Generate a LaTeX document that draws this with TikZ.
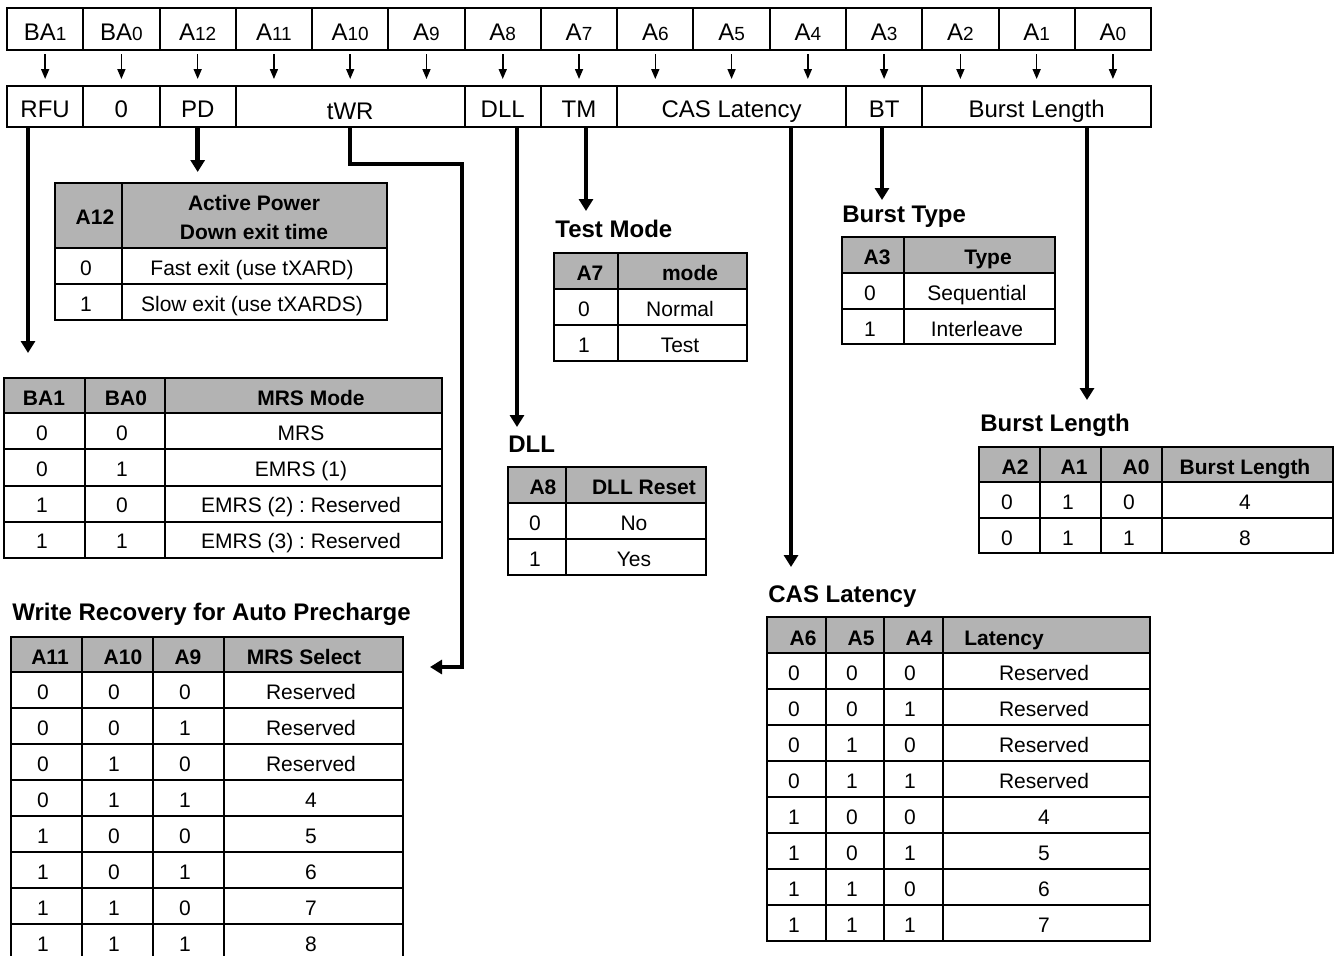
\documentclass[tikz,border=0pt]{standalone}
\usepackage{fontspec}
\setmainfont{Liberation Sans}
\usetikzlibrary{arrows.meta}
\definecolor{hdrgray}{RGB}{179,179,179}
\newcommand{\bitsub}[1]{{\fontsize{9.5}{10}\selectfont #1}}
\frenchspacing

\begin{document}
\begin{tikzpicture}[x=0.5pt, y=-0.5pt,
    bit/.style={draw, line width=1pt, minimum width=38.135pt, minimum height=21pt, inner sep=0pt,
      text height=8.6pt, text depth=0pt, font=\fontsize{12}{14}\selectfont},
    field/.style={bit, minimum height=20.5pt},
    arrow/.style={-{Triangle[length=5pt, width=4pt]}, line width=0.8pt, shorten <=1.5pt, shorten >=3pt},
    bigarrow/.style={-{Triangle[length=6pt, width=7pt]}, line width=2.2pt},
    tbl/.style={line width=1.1pt},
    hdr/.style={fill=hdrgray},
    cell/.style={inner sep=0pt, text height=7.5pt, text depth=0pt, yshift=-0.9pt, font=\fontsize{10.5}{12}\selectfont},
    head/.style={cell, font=\fontsize{10.5}{12}\selectfont\bfseries},
    headtwo/.style={inner sep=0pt, align=center, font=\fontsize{10.5}{14.5}\selectfont\bfseries},
    title/.style={anchor=west, inner sep=0pt, text height=8.6pt, text depth=0pt, font=\fontsize{12}{14}\selectfont\bfseries}
  ]
  \clip (0,0) rectangle (1338,955);

  % address bits
  \foreach \lbl [count=\i from 0] in {BA\bitsub{1}, BA\bitsub{0}, A\bitsub{12}, A\bitsub{11}, A\bitsub{10},
      A\bitsub{9}, A\bitsub{8}, A\bitsub{7}, A\bitsub{6}, A\bitsub{5}, A\bitsub{4}, A\bitsub{3},
      A\bitsub{2}, A\bitsub{1}, A\bitsub{0}} {
    \node[bit] (b\i) at ({7+76.27*(\i+0.5)}, 29) {\raisebox{-1.2pt}{\lbl}};
  }

  % register fields
  \coordinate (frow) at (0,106.5);
  \node[field] (RFU) at (b0 |- frow) {\raisebox{-1pt}{RFU}};
  \node[field] (zero) at (b1 |- frow) {\raisebox{-1pt}{0}};
  \node[field] (PD) at (b2 |- frow) {\raisebox{-1pt}{PD}};
  \node[field, minimum width=114.4pt] (tWR) at (b4 |- frow) {\raisebox{-2pt}{tWR}};
  \node[field] (DLL) at (b6 |- frow) {\raisebox{-1pt}{DLL}};
  \node[field] (TM) at (b7 |- frow) {\raisebox{-1pt}{TM}};
  \node[field, minimum width=114.4pt] (CAS) at (b9 |- frow) {\raisebox{-1pt}{CAS Latency}};
  \node[field] (BT) at (b11 |- frow) {\raisebox{-1pt}{BT}};
  \node[field, minimum width=114.4pt] (BL) at (b13 |- frow) {\raisebox{-1pt}{Burst Length}};

  \foreach \i in {0,...,14} {
    \draw[arrow] (b\i.south) -- (b\i.south |- RFU.north);
  }

  % field arrows
  \coordinate (mrsin) at (28,353);
  \coordinate (pdin) at (199,172);
  \coordinate (wrbend) at (462,164);
  \coordinate (wrin) at (430,667);
  \coordinate (dllin) at (517,427);
  \coordinate (tmin) at (586,211);
  \coordinate (casin) at (791,567);
  \coordinate (btin) at (882,200);
  \coordinate (blin) at (1087,400);
  \draw[bigarrow] (mrsin |- RFU.south) -- (mrsin);
  \draw[bigarrow] (PD.south) -- (PD.south |- pdin);
  \draw[bigarrow] (tWR.south) |- (wrbend) |- (wrin);
  \draw[bigarrow] (dllin |- DLL.south) -- (dllin);
  \draw[bigarrow] (tmin |- TM.south) -- (tmin);
  \draw[bigarrow] (casin |- CAS.south) -- (casin);
  \draw[bigarrow] (btin |- BT.south) -- (btin);
  \draw[bigarrow] (blin |- BL.south) -- (blin);

  % power down table
  \fill[hdr] (55,183) rectangle (387,248);
  \draw[tbl] (55,183) rectangle (387,320);
  \foreach \y in {248,284} \draw[tbl] (55,\y) -- (387,\y);
  \draw[tbl] (122,183) -- (122,320);
  \node[head] (pdh1) at (95,215) {A12};
  \node[headtwo] (pdh2) at (254,217) {Active Power\\Down exit time};
  \foreach \a/\b [count=\r] in {0/Fast exit (use tXARD), 1/Slow exit (use tXARDS)} {
    \node[cell] (pd\r-a) at (86,{230+36*\r}) {\a};
    \node[cell] (pd\r-b) at (252,{230+36*\r}) {\b};
  }

  % mrs mode table
  \fill[hdr] (4,378) rectangle (442,413);
  \draw[tbl] (4,378) rectangle (442,558);
  \foreach \y in {413,449,486,522} \draw[tbl] (4,\y) -- (442,\y);
  \foreach \x in {85,165} \draw[tbl] (\x,378) -- (\x,558);
  \foreach \h/\x [count=\c] in {BA1/44, BA0/126, MRS Mode/311} \node[head] (mrsh\c) at (\x,396) {\h};
  \foreach \a/\b/\d [count=\r] in {0/0/MRS, 0/1/EMRS (1), 1/0/EMRS (2) : Reserved, 1/1/EMRS (3) : Reserved} {
    \node[cell] (mrs\r-a) at (42,{395+36*\r}) {\a};
    \node[cell] (mrs\r-b) at (122,{395+36*\r}) {\b};
    \node[cell] (mrs\r-c) at (301,{395+36*\r}) {\d};
  }

  % write recovery table
  \node[title] (wrtitle) at (12,612) {Write Recovery for Auto Precharge};
  \fill[hdr] (11,637) rectangle (403,672);
  \draw[tbl] (11,637) rectangle (403,960);
  \foreach \y in {672,708,744,780,816,852,888,924} \draw[tbl] (11,\y) -- (403,\y);
  \foreach \x in {82,153,224} \draw[tbl] (\x,637) -- (\x,960);
  \foreach \h/\x [count=\c] in {A11/50, A10/123, A9/188, MRS Select/304} \node[head] (wrh\c) at (\x,655) {\h};
  \foreach \a/\b/\e/\d [count=\r] in {0/0/0/Reserved, 0/0/1/Reserved, 0/1/0/Reserved, 0/1/1/4,
      1/0/0/5, 1/0/1/6, 1/1/0/7, 1/1/1/8} {
    \node[cell] (wr\r-a) at (43,{654+36*\r}) {\a};
    \node[cell] (wr\r-b) at (114,{654+36*\r}) {\b};
    \node[cell] (wr\r-c) at (185,{654+36*\r}) {\e};
    \node[cell] (wr\r-d) at (311,{654+36*\r}) {\d};
  }

  % test mode table
  \node[title] (tmtitle) at (555,229) {Test Mode};
  \fill[hdr] (554,253) rectangle (747,289);
  \draw[tbl] (554,253) rectangle (747,361);
  \foreach \y in {289,325} \draw[tbl] (554,\y) -- (747,\y);
  \draw[tbl] (618,253) -- (618,361);
  \node[head] (tmh1) at (590,271) {A7};
  \node[head] (tmh2) at (690,271) {mode};
  \foreach \a/\b [count=\r] in {0/Normal, 1/Test} {
    \node[cell] (tm\r-a) at (584,{271+36*\r}) {\a};
    \node[cell] (tm\r-b) at (680,{271+36*\r}) {\b};
  }

  % dll table
  \node[title] (dlltitle) at (508,444) {DLL};
  \fill[hdr] (508,467) rectangle (706,503);
  \draw[tbl] (508,467) rectangle (706,575);
  \foreach \y in {503,539} \draw[tbl] (508,\y) -- (706,\y);
  \draw[tbl] (566,467) -- (566,575);
  \node[head] (dllh1) at (543,485) {A8};
  \node[head] (dllh2) at (644,485) {DLL Reset};
  \foreach \a/\b [count=\r] in {0/No, 1/Yes} {
    \node[cell] (dll\r-a) at (535,{485+36*\r}) {\a};
    \node[cell] (dll\r-b) at (634,{485+36*\r}) {\b};
  }

  % burst type table
  \node[title] (bttitle) at (842,214) {Burst Type};
  \fill[hdr] (842,237) rectangle (1055,273);
  \draw[tbl] (842,237) rectangle (1055,344);
  \foreach \y in {273,309} \draw[tbl] (842,\y) -- (1055,\y);
  \draw[tbl] (904,237) -- (904,344);
  \node[head] (bth1) at (877,255) {A3};
  \node[head] (bth2) at (988,255) {Type};
  \foreach \a/\b [count=\r] in {0/Sequential, 1/Interleave} {
    \node[cell] (bt\r-a) at (870,{255+36*\r}) {\a};
    \node[cell] (bt\r-b) at (977,{255+36*\r}) {\b};
  }

  % burst length table
  \node[title] (bltitle) at (980,423) {Burst Length};
  \fill[hdr] (979,447) rectangle (1333,482);
  \draw[tbl] (979,447) rectangle (1333,553);
  \foreach \y in {482,518} \draw[tbl] (979,\y) -- (1333,\y);
  \foreach \x in {1040,1101,1162} \draw[tbl] (\x,447) -- (\x,553);
  \foreach \h/\x [count=\c] in {A2/1015, A1/1074, A0/1136, Burst Length/1245} \node[head] (blh\c) at (\x,465) {\h};
  \foreach \a/\b/\e/\d [count=\r] in {0/1/0/4, 0/1/1/8} {
    \node[cell] (bl\r-a) at (1007,{464+36*\r}) {\a};
    \node[cell] (bl\r-b) at (1068,{464+36*\r}) {\b};
    \node[cell] (bl\r-c) at (1129,{464+36*\r}) {\e};
    \node[cell] (bl\r-d) at (1245,{464+36*\r}) {\d};
  }

  % cas latency table
  \node[title] (castitle) at (768,594) {CAS Latency};
  \fill[hdr] (767,617) rectangle (1150,653);
  \draw[tbl] (767,617) rectangle (1150,941);
  \foreach \y in {653,689,725,761,797,833,869,905} \draw[tbl] (767,\y) -- (1150,\y);
  \foreach \x in {826,884,943} \draw[tbl] (\x,617) -- (\x,941);
  \foreach \h/\x [count=\c] in {A6/803, A5/861, A4/919, Latency/1004} \node[head] (cash\c) at (\x,636) {\h};
  \foreach \a/\b/\e/\d [count=\r] in {0/0/0/Reserved, 0/0/1/Reserved, 0/1/0/Reserved, 0/1/1/Reserved,
      1/0/0/4, 1/0/1/5, 1/1/0/6, 1/1/1/7} {
    \node[cell] (cas\r-a) at (794,{635+36*\r}) {\a};
    \node[cell] (cas\r-b) at (852,{635+36*\r}) {\b};
    \node[cell] (cas\r-c) at (910,{635+36*\r}) {\e};
    \node[cell] (cas\r-d) at (1044,{635+36*\r}) {\d};
  }
\end{tikzpicture}
\end{document}
